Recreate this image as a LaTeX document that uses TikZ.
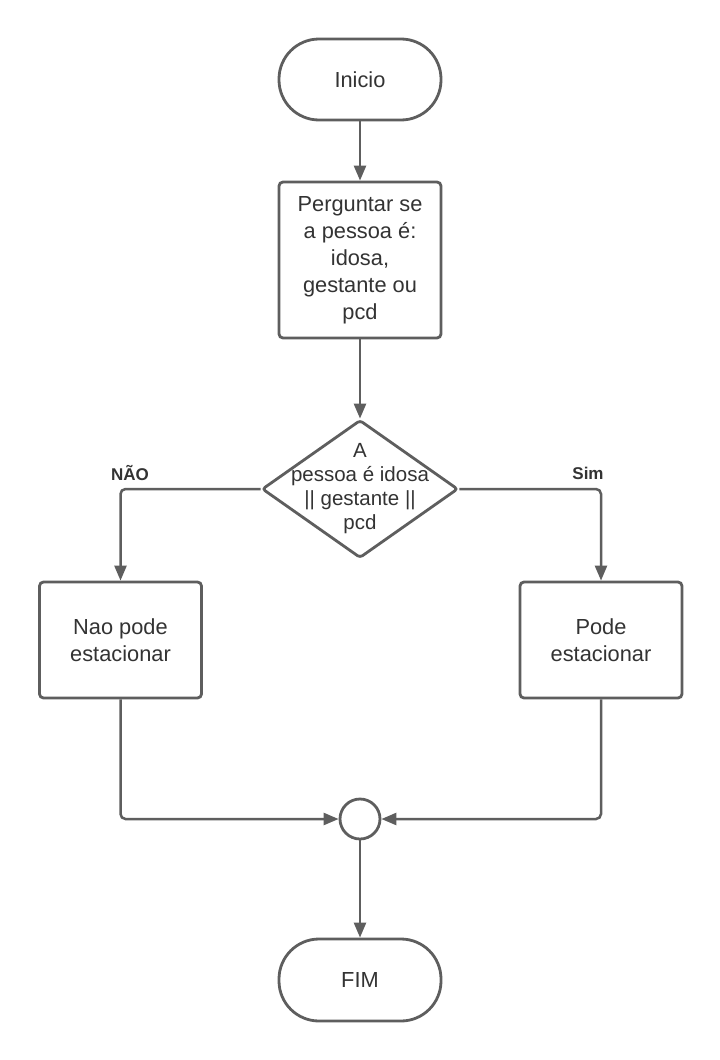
\documentclass[tikz,border=0pt]{standalone}
\usepackage{fontspec}
\setmainfont{Liberation Sans}
\usetikzlibrary{arrows.meta,shapes.geometric}
\definecolor{ln}{HTML}{5E5E5E}
\definecolor{tx}{HTML}{333333}
\begin{document}
\begin{tikzpicture}[x=1pt,y=-1pt,
  every node/.style={text=tx},
  basefont/.style={font=\fontsize{21.8}{27}\selectfont},
  term/.style={basefont, draw=ln, line width=2.8pt, fill=white, rounded corners=40pt,
    minimum width=162pt, minimum height=81pt, align=center, inner sep=0pt},
  proc/.style={basefont, draw=ln, line width=2.8pt, fill=white, rounded corners=4pt,
    minimum width=162pt, align=center, inner sep=0pt},
  dia/.style={draw=ln, line width=2.8pt, fill=white, shape=diamond, rounded corners=3pt,
    minimum width=196pt, minimum height=138pt, inner sep=0pt},
  junc/.style={draw=ln, line width=2.8pt, fill=white, circle, minimum size=40pt, inner sep=0pt},
  conn/.style={draw=ln, line width=2.5pt, rounded corners=5pt, -{Triangle[length=15pt,width=12pt]}},
  lab/.style={font=\fontsize{17}{20}\bfseries\selectfont}
]
\useasboundingbox (0,0) rectangle (720,1060);
\fill[white] (0,0) rectangle (720,1060);

\node[term] (start) at (360,79.5) {Inicio};
\node[proc, minimum height=156pt] (ask) at (360,260) {Perguntar se\\a pessoa é:\\idosa,\\gestante ou\\pcd};
\node[dia, label={[font=\fontsize{20.5}{24}\selectfont, align=center, text=tx]center:A\\pessoa é idosa\\|| gestante ||\\pcd}] (dec) at (360,489) {};
\node[proc, minimum height=116pt] (no) at (120.5,640) {Nao pode\\estacionar};
\node[proc, minimum height=116pt] (yes) at (601,640) {Pode\\estacionar};
\node[junc] (join) at (360,819) {};
\node[term, minimum height=82pt] (fim) at (360,980) {FIM};

\node[lab] (labno) at (130,473) {NÃO};
\node[lab] (labyes) at (588,473) {Sim};

\draw[conn] (start) -- (ask);
\draw[conn] (ask) -- (dec);
\draw[conn] (dec.west) -| (no.north);
\draw[conn] (dec.east) -| (yes.north);
\draw[conn] (no.south) |- (join.west);
\draw[conn] (yes.south) |- (join.east);
\draw[conn] (join) -- (fim);
\end{tikzpicture}
\end{document}
